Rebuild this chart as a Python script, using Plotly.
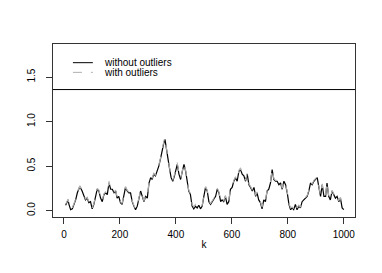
import plotly.graph_objects as go

k = [6, 12, 15, 18, 24, 30, 36, 42, 48, 57,
     65, 71, 77, 83, 89, 95, 101, 107, 113, 119,
     125, 131, 137, 143, 149, 155, 161, 167, 173, 179,
     185, 190, 196, 202, 208, 214, 220, 226, 232, 238,
     244, 250, 256, 262, 268, 274, 280, 286, 292, 298,
     304, 310, 315, 321, 327, 333, 339, 345, 351, 357,
     361, 365, 371, 377, 383, 389, 395, 401, 405, 411,
     417, 423, 429, 435, 440, 446, 452, 458, 464, 470,
     476, 482, 488, 494, 500, 506, 512, 518, 524, 530,
     536, 542, 548, 554, 560, 565, 571, 577, 583, 589,
     595, 601, 607, 613, 619, 625, 631, 637, 643, 649,
     655, 661, 667, 673, 679, 685, 690, 696, 702, 708,
     714, 720, 726, 732, 738, 744, 750, 756, 762, 768,
     774, 780, 786, 792, 798, 804, 810, 815, 821, 827,
     833, 839, 845, 851, 857, 863, 869, 875, 881, 887,
     893, 899, 905, 911, 917, 923, 929, 935, 940, 946,
     952, 958, 964, 970, 976, 982, 988, 994, 1000]

without_outliers = [
    0.06, 0.10, 0.12, 0.07, 0.01, 0.02, 0.07, 0.12, 0.20, 0.27,
    0.22, 0.16, 0.12, 0.14, 0.09, 0.10, 0.02, 0.07, 0.16, 0.24,
    0.22, 0.14, 0.10, 0.18, 0.20, 0.18, 0.31, 0.24, 0.24, 0.20,
    0.22, 0.14, 0.16, 0.09, 0.07, 0.16, 0.26, 0.22, 0.20, 0.20,
    0.10, 0.05, 0.01, 0.05, 0.14, 0.22, 0.16, 0.10, 0.16, 0.14,
    0.31, 0.37, 0.35, 0.41, 0.39, 0.44, 0.50, 0.58, 0.69, 0.76,
    0.80, 0.71, 0.59, 0.48, 0.37, 0.33, 0.39, 0.46, 0.52, 0.41,
    0.35, 0.44, 0.52, 0.44, 0.35, 0.22, 0.18, 0.05, 0.02, 0.05,
    0.03, 0.06, 0.02, 0.05, 0.16, 0.26, 0.22, 0.10, 0.07, 0.10,
    0.12, 0.16, 0.24, 0.20, 0.10, 0.12, 0.10, 0.16, 0.07, 0.10,
    0.24, 0.26, 0.33, 0.37, 0.33, 0.44, 0.46, 0.41, 0.39, 0.33,
    0.41, 0.29, 0.26, 0.22, 0.26, 0.16, 0.20, 0.12, 0.09, 0.02,
    0.12, 0.10, 0.22, 0.24, 0.31, 0.46, 0.35, 0.33, 0.33, 0.29,
    0.31, 0.24, 0.33, 0.29, 0.20, 0.07, 0.01, 0.03, 0.01, 0.07,
    0.01, 0.05, 0.03, 0.10, 0.12, 0.14, 0.16, 0.22, 0.31, 0.29,
    0.33, 0.35, 0.37, 0.26, 0.16, 0.29, 0.16, 0.16, 0.31, 0.16,
    0.12, 0.22, 0.18, 0.14, 0.16, 0.10, 0.14, 0.03, 0.01]

with_outliers = [
    0.07, 0.12, 0.13, 0.08, 0.02, 0.03, 0.08, 0.13, 0.21, 0.28,
    0.23, 0.17, 0.13, 0.15, 0.10, 0.11, 0.03, 0.08, 0.17, 0.25,
    0.23, 0.15, 0.11, 0.19, 0.21, 0.19, 0.33, 0.25, 0.25, 0.21,
    0.23, 0.15, 0.17, 0.10, 0.08, 0.17, 0.27, 0.23, 0.21, 0.21,
    0.11, 0.06, 0.02, 0.06, 0.15, 0.23, 0.17, 0.11, 0.17, 0.15,
    0.32, 0.38, 0.36, 0.42, 0.40, 0.45, 0.51, 0.59, 0.70, 0.78,
    0.82, 0.72, 0.60, 0.49, 0.38, 0.34, 0.40, 0.48, 0.54, 0.42,
    0.36, 0.45, 0.53, 0.45, 0.36, 0.23, 0.19, 0.07, 0.04, 0.07,
    0.05, 0.07, 0.04, 0.06, 0.17, 0.27, 0.23, 0.11, 0.08, 0.11,
    0.13, 0.17, 0.25, 0.21, 0.11, 0.13, 0.11, 0.17, 0.08, 0.11,
    0.25, 0.27, 0.34, 0.38, 0.34, 0.45, 0.48, 0.42, 0.40, 0.34,
    0.42, 0.30, 0.27, 0.23, 0.27, 0.17, 0.21, 0.13, 0.10, 0.04,
    0.13, 0.11, 0.23, 0.25, 0.32, 0.47, 0.36, 0.34, 0.34, 0.30,
    0.32, 0.25, 0.34, 0.30, 0.21, 0.08, 0.03, 0.04, 0.02, 0.08,
    0.03, 0.06, 0.04, 0.11, 0.13, 0.15, 0.17, 0.23, 0.32, 0.30,
    0.34, 0.36, 0.38, 0.27, 0.17, 0.30, 0.17, 0.17, 0.32, 0.17,
    0.13, 0.23, 0.19, 0.15, 0.17, 0.11, 0.15, 0.04, 0.02]

series_names = ["without outliers", "with outliers"]
x_ticks = [0, 200, 400, 600, 800, 1000]
y_ticks = [0.0, 0.5, 1.0, 1.5]
y_tick_labels = ["0.0", "0.5", "1.0", "1.5"]
legend_divider = 1.36

FONT = "Liberation Sans, Arial, Helvetica, sans-serif"
BLACK_LINE = dict(color="black", width=1.2)
GRAY_LINE = dict(color="#b0b0b0", width=1.1, dash="dash")

fig = go.Figure()
fig.add_trace(go.Scatter(x=k, y=without_outliers, mode="lines",
                         name=series_names[0], line=BLACK_LINE,
                         showlegend=False))
fig.add_trace(go.Scatter(x=k, y=with_outliers, mode="lines",
                         name=series_names[1], line=GRAY_LINE,
                         showlegend=False))

# divider between legend area and data area
fig.add_shape(type="line", xref="paper", x0=0, x1=1, yref="y",
              y0=legend_divider, y1=legend_divider,
              line=dict(color="black", width=1))

# hand-built legend (R-style, compact)
legend_rows = [(0.892, dict(color="black", width=1)),
               (0.836, dict(color="#b0b0b0", width=1, dash="dash"))]
for (ypos, ln), name in zip(legend_rows, series_names):
    fig.add_shape(type="line", xref="paper", yref="paper",
                  x0=0.066, x1=0.132, y0=ypos, y1=ypos, line=ln)
    fig.add_annotation(xref="paper", yref="paper", x=0.162, y=ypos,
                       text=name, showarrow=False, xanchor="left",
                       yanchor="middle", font=dict(size=10, color="black"))

# page body has an 8px margin, so the figure is sized to fit the window
fig.update_layout(
    width=374, height=257,
    margin=dict(l=45, r=27, t=36, b=48),
    paper_bgcolor="white", plot_bgcolor="white",
    font=dict(family=FONT, size=10, color="black"),
    showlegend=False,
    xaxis=dict(range=[-39, 1040], tickvals=x_ticks,
               ticktext=[str(v) for v in x_ticks],
               showgrid=False, zeroline=False, showline=True,
               linecolor="#333", linewidth=1, mirror=True,
               ticks="outside", ticklen=6, tickcolor="#333",
               ticklabelstandoff=2,
               tickfont=dict(size=10, color="black"),
               title=dict(text="k", standoff=1,
                          font=dict(size=10, color="black"))),
    yaxis=dict(range=[-0.072, 1.872], tickvals=y_ticks,
               ticktext=y_tick_labels, tickangle=-90,
               showgrid=False, zeroline=False, showline=True,
               linecolor="#333", linewidth=1, mirror=True,
               ticks="outside", ticklen=6, tickcolor="#333",
               ticklabelstandoff=7,
               tickfont=dict(size=10, color="black")),
)

fig.write_html("out.html")
